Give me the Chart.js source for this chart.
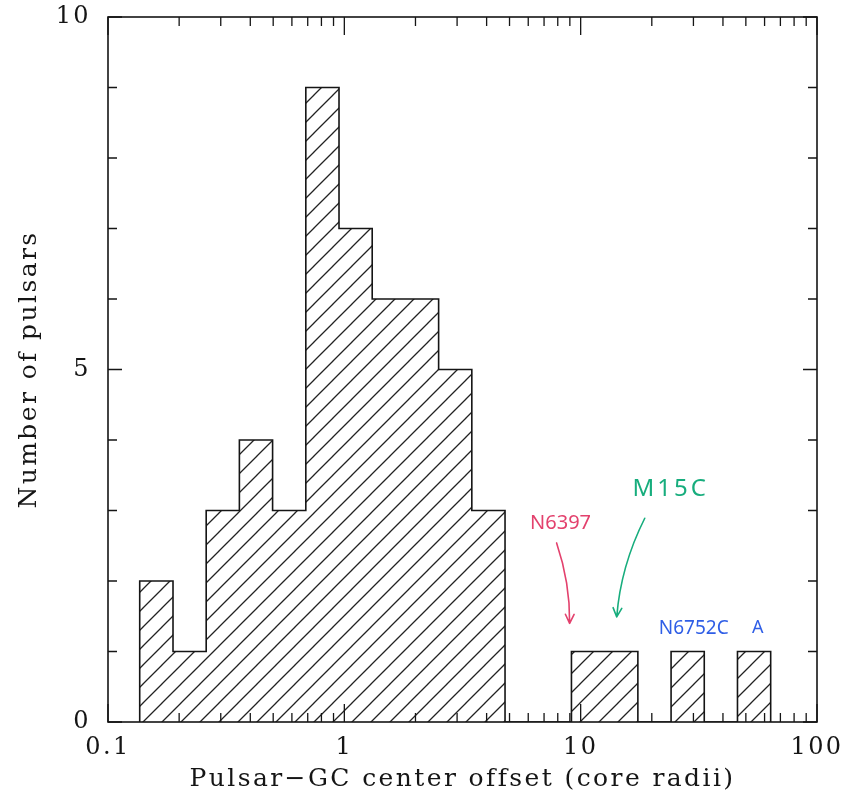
<!DOCTYPE html>
<html>
<head>
<meta charset="utf-8">
<script src="https://cdn.jsdelivr.net/npm/chart.js@4.4.1/dist/chart.umd.min.js"></script>
<style>
html, body { margin: 0; padding: 0; background: #fff; }
#wrap { width: 859px; height: 799px; position: relative; }
</style>
</head>
<body>
<div id="wrap"><canvas id="histChart"></canvas></div>
<script>
// bin edges in core radii (log-spaced, last one closes the last bin)
const binEdges = [0.1362, 0.1884, 0.2603, 0.3597, 0.4971, 0.6871, 0.9495, 1.312, 1.813, 2.506,
                  3.463, 4.786, 6.614, 9.141, 12.63, 17.46, 24.13, 33.34, 46.08, 63.68];
const pulsarCounts = [2, 1, 3, 4, 3, 9, 7, 6, 6, 5, 3, 0, 0, 1, 1, 0, 1, 0, 1];

const xMajorTicks = [0.1, 1, 10, 100];
const xMinorTicks = [0.2, 0.3, 0.4, 0.5, 0.6, 0.7, 0.8, 0.9, 2, 3, 4, 5, 6, 7, 8, 9,
                     20, 30, 40, 50, 60, 70, 80, 90];
const yMajorTicks = [0, 5, 10];
const yMinorTicks = [1, 2, 3, 4, 6, 7, 8, 9];

// handwritten notes, placed in data units
const noteLabels = ['N6397', 'M15C', 'N6752C', 'A'];
const noteColors = ['#e3416d', '#17ad7d', '#2f5ee6', '#2f5ee6'];
const noteX = [8.22, 24.05, 30.1, 56.2];
const noteY = [2.82, 3.30, 1.32, 1.33];
const noteSizes = [20, 24, 19, 18];
const noteSpacing = [0, 3, 0, 0];

// arrows: start, bend, end (data units)
const arrowColors = ['#e3416d', '#17ad7d'];
const arrowFrom = [[7.91, 2.54], [18.67, 2.89]];
const arrowVia = [[9.03, 1.97], [14.77, 2.21]];
const arrowTo = [[8.98, 1.40], [14.21, 1.49]];

const ink = '#151515';
const axisFont = { family: 'DejaVu Serif', size: 24 };
const titleFont = { family: 'DejaVu Serif', size: 25 };

function makeHatch() {
    const c = document.createElement('canvas');
    c.width = 19;
    c.height = 19;
    const g = c.getContext('2d');
    g.strokeStyle = '#222';
    g.lineWidth = 1.3;
    g.beginPath();
    g.moveTo(-2, 21); g.lineTo(21, -2);
    g.moveTo(-12, 12); g.lineTo(12, -12);
    g.moveTo(7, 31); g.lineTo(31, 7);
    g.stroke();
    const p = g.createPattern(c, 'repeat');
    p.setTransform(new DOMMatrix().translate(10, 0));
    return p;
}

// step outline: each count holds from its lower edge up to the next edge
const last = binEdges.length - 1;
const histOutline = [{ x: binEdges[0], y: 0 }]
    .concat(pulsarCounts.map((n, i) => ({ x: binEdges[i], y: n })))
    .concat([{ x: binEdges[last], y: pulsarCounts[last - 1] }, { x: binEdges[last], y: 0 }]);

const wideText = {
    id: 'wideText',
    beforeDraw(chart) { chart.ctx.letterSpacing = '2.4px'; },
    beforeDatasetsDraw(chart) { chart.ctx.letterSpacing = '0px'; }
};

const frameAndTicks = {
    id: 'frameAndTicks',
    afterDatasetsDraw(chart) {
        const { ctx, chartArea: a, scales: { x, y } } = chart;
        ctx.save();
        ctx.strokeStyle = ink;
        ctx.lineWidth = 1.6;
        ctx.strokeRect(a.left, a.top, a.right - a.left, a.bottom - a.top);
        ctx.lineWidth = 1.3;
        ctx.beginPath();
        const xt = (v, len) => {
            const px = x.getPixelForValue(v);
            ctx.moveTo(px, a.bottom); ctx.lineTo(px, a.bottom - len);
            ctx.moveTo(px, a.top); ctx.lineTo(px, a.top + len);
        };
        const yt = (v, len) => {
            const py = y.getPixelForValue(v);
            ctx.moveTo(a.left, py); ctx.lineTo(a.left + len, py);
            ctx.moveTo(a.right, py); ctx.lineTo(a.right - len, py);
        };
        xMajorTicks.forEach(v => xt(v, 18));
        xMinorTicks.forEach(v => xt(v, 9));
        yMajorTicks.forEach(v => yt(v, 14));
        yMinorTicks.forEach(v => yt(v, 9));
        ctx.stroke();
        ctx.restore();
    }
};

const handNotes = {
    id: 'handNotes',
    afterDraw(chart) {
        const { ctx, scales: { x, y } } = chart;
        const px = p => [x.getPixelForValue(p[0]), y.getPixelForValue(p[1])];
        ctx.save();
        ctx.textAlign = 'center';
        ctx.textBaseline = 'middle';
        noteLabels.forEach((t, i) => {
            ctx.fillStyle = noteColors[i];
            ctx.letterSpacing = noteSpacing[i] + 'px';
            ctx.font = `${noteSizes[i]}px "Noto Sans"`;
            ctx.fillText(t, x.getPixelForValue(noteX[i]), y.getPixelForValue(noteY[i]));
        });
        ctx.lineWidth = 1.6;
        ctx.lineCap = 'round';
        ctx.lineJoin = 'round';
        arrowFrom.forEach((f, i) => {
            const [x0, y0] = px(f);
            const [x1, y1] = px(arrowVia[i]);
            const [x2, y2] = px(arrowTo[i]);
            ctx.strokeStyle = arrowColors[i];
            ctx.beginPath();
            ctx.moveTo(x0, y0);
            ctx.quadraticCurveTo(x1, y1, x2, y2);
            const ang = Math.atan2(y2 - y1, x2 - x1);
            ctx.moveTo(x2 - 10 * Math.cos(ang - 0.45), y2 - 10 * Math.sin(ang - 0.45));
            ctx.lineTo(x2, y2);
            ctx.lineTo(x2 - 10 * Math.cos(ang + 0.45), y2 - 10 * Math.sin(ang + 0.45));
            ctx.stroke();
        });
        ctx.restore();
    }
};

new Chart(document.getElementById('histChart'), {
    type: 'line',
    data: {
        datasets: [{
            data: histOutline,
            stepped: true,
            fill: 'origin',
            backgroundColor: makeHatch(),
            borderColor: ink,
            borderWidth: 1.6,
            pointRadius: 0,
            tension: 0
        }]
    },
    options: {
        responsive: true,
        maintainAspectRatio: false,
        animation: false,
        layout: { padding: { top: 17, right: 42, left: 0, bottom: 0 } },
        plugins: { legend: { display: false }, tooltip: { enabled: false } },
        scales: {
            x: {
                type: 'logarithmic',
                min: 0.1,
                max: 100,
                grid: { display: false, drawTicks: false },
                border: { display: false },
                afterBuildTicks: s => { s.ticks = xMajorTicks.map(v => ({ value: v })); },
                afterFit: s => { s.height = 77; },
                ticks: {
                    autoSkip: false,
                    maxRotation: 0,
                    padding: 11,
                    color: ink,
                    font: axisFont,
                    callback: v => xMajorTicks.includes(v) ? String(v) : ''
                },
                title: {
                    display: true,
                    text: 'Pulsar\u2212GC center offset (core radii)',
                    color: ink,
                    font: titleFont,
                    padding: { top: 0, bottom: 5 }
                }
            },
            y: {
                min: 0,
                max: 10,
                grid: { display: false, drawTicks: false },
                border: { display: false },
                afterBuildTicks: s => { s.ticks = yMajorTicks.map(v => ({ value: v })); },
                afterFit: s => { s.width = 108; s.paddingTop = 0; s.paddingBottom = 0; },
                ticks: { padding: 17, color: ink, font: axisFont },
                title: {
                    display: true,
                    text: 'Number of pulsars',
                    color: ink,
                    font: titleFont,
                    padding: { top: 14, bottom: 0 }
                }
            }
        }
    },
    plugins: [wideText, frameAndTicks, handNotes]
});
</script>
</body>
</html>
